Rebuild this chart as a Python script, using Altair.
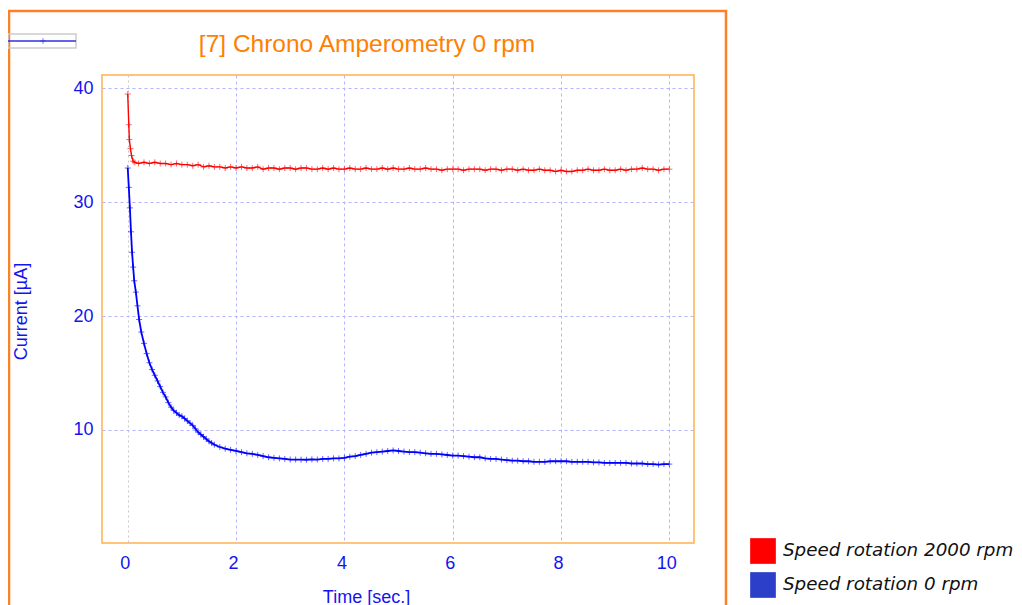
import altair as alt
import pandas as pd

# ---------------- data ----------------
# Red series: "Speed rotation 2000 rpm"
red_early_t = [0.0, 0.02, 0.03, 0.05, 0.07, 0.10, 0.13]
red_early_v = [39.5, 36.8, 35.5, 34.7, 34.1, 33.6, 33.5]
# values at t = 0.2, 0.3, ... 10.0
red_v = [
    33.4, 33.5, 33.4, 33.5, 33.4, 33.4, 33.3, 33.4, 33.3,
    33.3, 33.2, 33.3, 33.1, 33.2, 33.1, 33.1, 33.0, 33.1, 33.0,
    33.1, 33.0, 33.0, 33.1, 32.9, 33.0, 33.0, 32.9, 33.0, 33.0,
    32.9, 33.0, 33.0, 32.9, 32.9, 33.0, 32.9, 33.0, 32.9, 32.9,
    33.0, 32.9, 32.9, 33.0, 32.9, 32.9, 33.0, 32.9, 33.0, 32.9,
    32.9, 33.0, 32.9, 32.9, 33.0, 32.9, 32.9, 32.8, 32.9, 32.9,
    32.9, 32.8, 32.9, 32.9, 32.9, 32.8, 32.9, 32.9, 32.8, 32.9,
    32.9, 32.8, 32.9, 32.8, 32.8, 32.9, 32.8, 32.8, 32.7, 32.8,
    32.7, 32.7, 32.8, 32.8, 32.9, 32.8, 32.8, 32.9, 32.8, 32.8,
    32.9, 32.8, 32.9, 32.9, 33.0, 32.9, 32.9, 32.8, 32.9, 32.9,
]

# Blue series: "Speed rotation 0 rpm"
blue_early_t = [0.0, 0.02, 0.04, 0.06, 0.08, 0.10, 0.12, 0.15, 0.18, 0.21,
                0.25, 0.30, 0.35, 0.40, 0.45, 0.50, 0.55, 0.60, 0.65, 0.70,
                0.75, 0.80, 0.85, 0.90, 0.95, 1.00, 1.05, 1.10, 1.15, 1.20,
                1.25, 1.30, 1.35, 1.40, 1.45, 1.50, 1.55, 1.60, 1.70, 1.80,
                1.90, 2.00]
blue_early_v = [33.0, 31.3, 29.5, 27.4, 25.6, 24.3, 23.1, 22.1, 20.9, 19.7,
                18.6, 17.6, 16.7, 15.9, 15.3, 14.8, 14.3, 13.8, 13.3, 12.9,
                12.4, 12.0, 11.7, 11.5, 11.3, 11.2, 11.0, 10.8, 10.6, 10.4,
                10.1, 9.8, 9.6, 9.4, 9.2, 9.0, 8.85, 8.7, 8.5, 8.35,
                8.25, 8.15]
# values at t = 2.1, 2.2, ... 10.0
blue_v = [
    8.05, 7.95, 7.9, 7.8, 7.7, 7.6, 7.55, 7.5, 7.45, 7.4,
    7.4, 7.4, 7.38, 7.42, 7.4, 7.45, 7.45, 7.5, 7.5, 7.55,
    7.65, 7.7, 7.8, 7.9, 8.0, 8.05, 8.1, 8.15, 8.2, 8.15,
    8.1, 8.05, 8.05, 8.0, 7.95, 7.9, 7.9, 7.85, 7.8, 7.75,
    7.75, 7.7, 7.65, 7.6, 7.6, 7.5, 7.45, 7.45, 7.4, 7.35,
    7.3, 7.3, 7.25, 7.25, 7.2, 7.2, 7.2, 7.25, 7.25, 7.25,
    7.25, 7.2, 7.2, 7.2, 7.2, 7.15, 7.15, 7.1, 7.1, 7.1,
    7.1, 7.1, 7.05, 7.05, 7.05, 7.0, 7.0, 6.95, 7.0, 7.0,
]

series_names = ["Speed rotation 2000 rpm", "Speed rotation 0 rpm"]
chart_title = "[7] Chrono Amperometry 0 rpm"
x_ticks = [0, 2, 4, 6, 8, 10]
y_ticks = [10, 20, 30, 40]

red_t = red_early_t + [round(0.2 + 0.1 * i, 2) for i in range(len(red_v))]
red_all = red_early_v + red_v
blue_t = blue_early_t + [round(2.1 + 0.1 * i, 2) for i in range(len(blue_v))]
blue_all = blue_early_v + blue_v

red_df = pd.DataFrame({"t": red_t, "v": red_all, "series": series_names[0]})
blue_df = pd.DataFrame({"t": blue_t, "v": blue_all, "series": series_names[1]})
all_df = pd.concat([red_df, blue_df], ignore_index=True)

PLUS = "M-1,0H1M0,-1V1"
BLUE_TXT = "#1414F0"

x_enc = alt.X(
    "t:Q",
    scale=alt.Scale(domain=[-0.475, 10.455], nice=False, zero=False),
    axis=alt.Axis(
        values=x_ticks,
        title="Time [sec.]",
        titleX=264, titleY=59, titleAlign="center", titleBaseline="alphabetic",
        labelOffset=-3, labelPadding=11,
        gridColor={"condition": {"test": "datum.value === 0", "value": "#C8C8C8"}, "value": "#B4B4FF"},
        gridDash={"condition": {"test": "datum.value === 0", "value": [2, 3]}, "value": [3, 3]},
    ),
)
y_enc = alt.Y(
    "v:Q",
    scale=alt.Scale(domain=[0.07, 41.17], nice=False, zero=False),
    axis=alt.Axis(
        values=y_ticks,
        title="Current [µA]",
        titleX=-81, titleY=236, titleAngle=-90, titleAlign="center", titleBaseline="middle",
        labelPadding=9,
        gridColor="#B4B4FF", gridDash=[3, 3],
    ),
)

def series_layers(df, color, lw):
    base = alt.Chart(df)
    line = base.mark_line(color=color, strokeWidth=lw).encode(x=x_enc, y=y_enc)
    pts = base.mark_point(shape=PLUS, filled=False, color=color, size=36,
                          strokeWidth=1, opacity=0.6).encode(x=x_enc, y=y_enc)
    return [line, pts]

one = pd.DataFrame({"k": [0]})

frame = alt.Chart(one).mark_rect(filled=False, stroke="#FF7F27", strokeWidth=2.5).encode(
    x=alt.value(-93), x2=alt.value(624), y=alt.value(-64), y2=alt.value(560))

title_text = alt.Chart(one).mark_text(
    text=chart_title, color="#FF8000", font="Liberation Sans", fontSize=24.5,
    align="center", baseline="alphabetic",
).encode(x=alt.value(265), y=alt.value(-23))

mini_box = alt.Chart(one).mark_rect(filled=False, stroke="#CCCCCC", strokeWidth=1.5).encode(
    x=alt.value(-94), x2=alt.value(-26), y=alt.value(-41), y2=alt.value(-27))
mini_line = alt.Chart(one).mark_rule(color="#3030E0", strokeWidth=1.5).encode(
    x=alt.value(-94), x2=alt.value(-26), y=alt.value(-34))
mini_plus = alt.Chart(one).mark_point(shape=PLUS, filled=False, color="#3030E0", size=30,
                                      strokeWidth=1).encode(x=alt.value(-59), y=alt.value(-34))

legend_layer = alt.Chart(all_df).mark_point(shape="square", filled=True, opacity=1).encode(
    color=alt.Color(
        "series:N",
        scale=alt.Scale(domain=series_names, range=["#FF0000", "#2B3FC8"]),
        legend=alt.Legend(
            title=None, orient="none", legendX=648, legendY=463,
            symbolType="square", symbolSize=660, symbolStrokeWidth=0, symbolOpacity=1,
            labelFont="DejaVu Sans", labelFontStyle="italic", labelFontSize=18.3,
            labelColor="#111111", labelOffset=7, rowPadding=8, padding=0,
            labelLimit=400,
        ),
    )
).transform_filter("false")

layers = [frame, title_text, mini_box, mini_line, mini_plus]
layers += series_layers(red_df, "#FF0000", 1.4)
layers += series_layers(blue_df, "#0000FF", 1.8)
layers += [legend_layer]

chart = alt.layer(*layers).properties(
    width=592,
    height=468,
    background="white",
    autosize=alt.AutoSizeParams(type="none"),
    padding={"left": 94, "top": 67, "right": 320, "bottom": 62},
).configure_view(
    stroke="#FFB050", strokeWidth=1.5
).configure_axis(
    labelFont="Liberation Sans", labelFontSize=18, labelColor=BLUE_TXT,
    titleFont="Liberation Sans", titleFontSize=18, titleFontWeight="normal", titleColor=BLUE_TXT,
    domain=False, ticks=False, grid=True, gridWidth=1,
)

chart.save("out.html", embed_options={"renderer": "svg", "actions": False})
